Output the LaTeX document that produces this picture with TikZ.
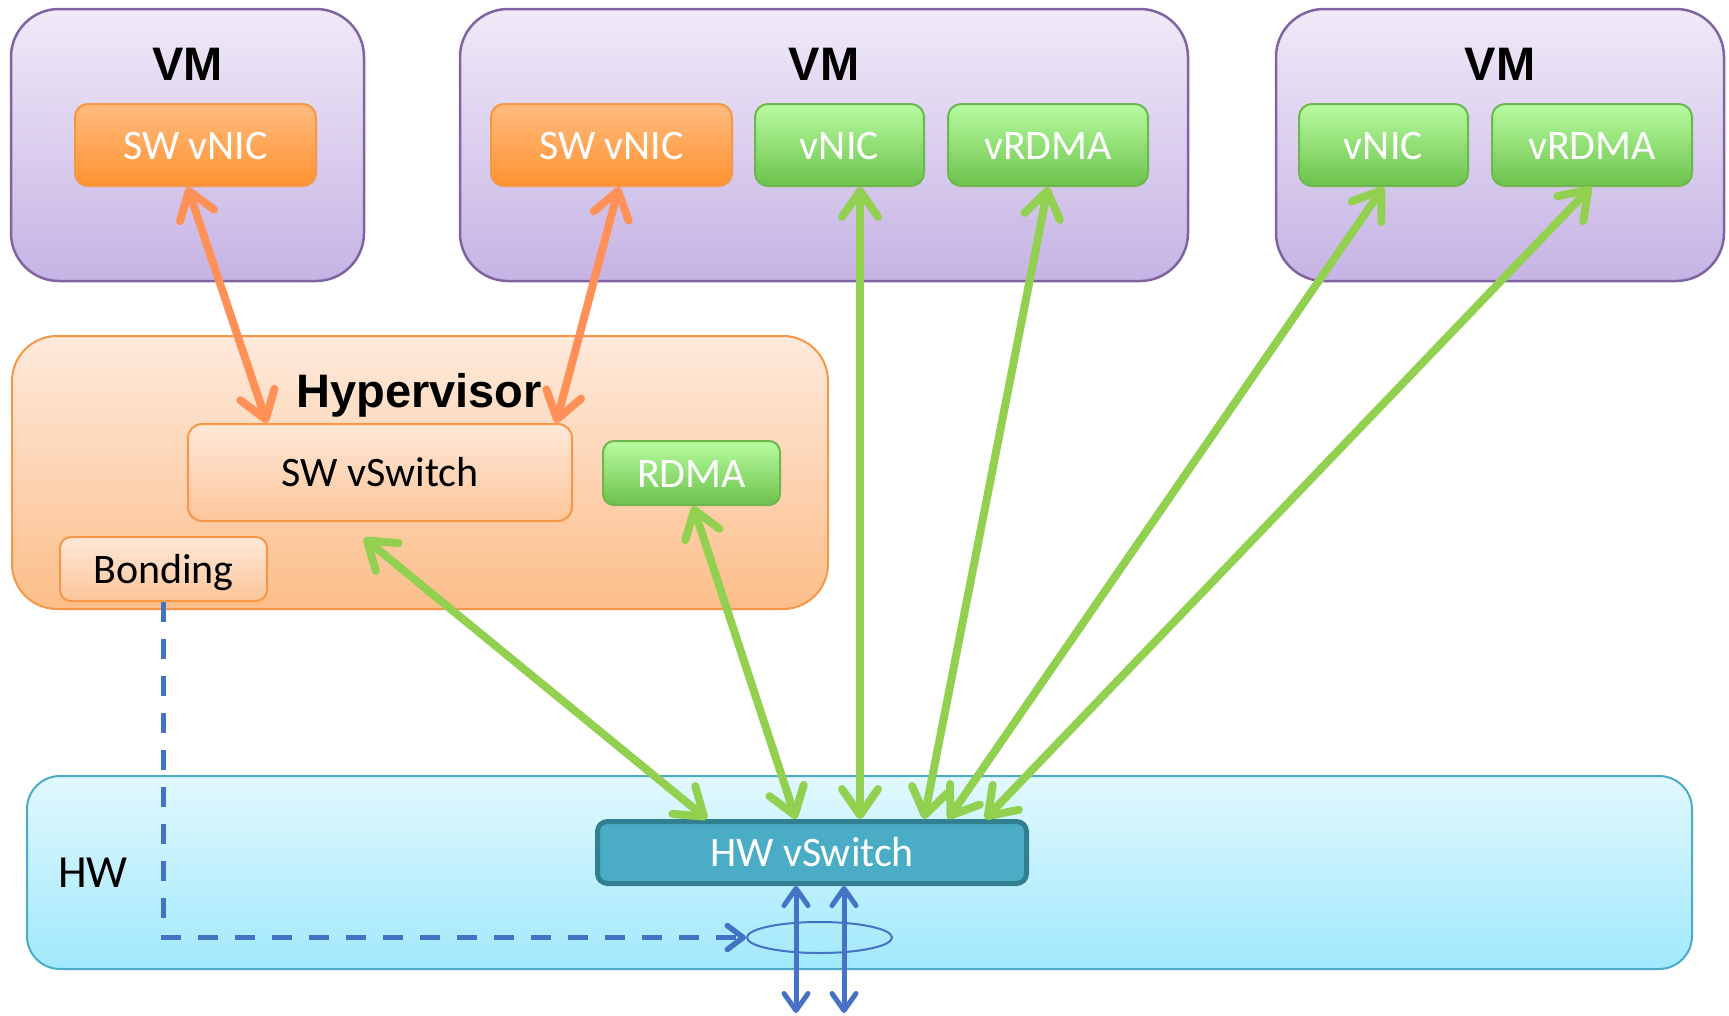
\documentclass[tikz,border=0pt]{standalone}
\usepackage{fontspec}
\setmainfont{Carlito}
\newfontfamily\headfont{Liberation Sans}
\usetikzlibrary{arrows.meta,shapes.geometric,calc}

\definecolor{vmtop}{HTML}{F0EAF8}
\definecolor{vmbot}{HTML}{C6B3E4}
\definecolor{vmline}{HTML}{8064A2}
\definecolor{ortop}{HTML}{FFBC7E}
\definecolor{orbot}{HTML}{FF9232}
\definecolor{orline}{HTML}{F79646}
\definecolor{grtop}{HTML}{B8FCA0}
\definecolor{grbot}{HTML}{6CC24C}
\definecolor{grline}{HTML}{6FB64F}
\definecolor{hvtop}{HTML}{FEEADC}
\definecolor{hvbot}{HTML}{FCBE8A}
\definecolor{swtop}{HTML}{FEE8D8}
\definecolor{swbot}{HTML}{FCC59A}
\definecolor{hwtop}{HTML}{E2F8FE}
\definecolor{hwbot}{HTML}{A0E9FC}
\definecolor{hwline}{HTML}{4BACC6}
\definecolor{hwsfill}{HTML}{4BACC6}
\definecolor{hwsline}{HTML}{327F92}
\definecolor{orarrow}{HTML}{FF9058}
\definecolor{grarrow}{HTML}{92D050}
\definecolor{blarrow}{HTML}{4472C4}

\begin{document}
\begin{tikzpicture}[x=1pt,y=1pt,
  bodyfont/.style={font=\fontsize{42}{50}\selectfont, text height=30pt, text depth=2pt},
  title/.style={anchor=base, inner sep=0pt, font=\headfont\bfseries\fontsize{47}{56}\selectfont},
  vmbox/.style={draw=vmline, line width=2.5pt, rounded corners=48pt,
    top color=vmtop, bottom color=vmbot, inner sep=0pt, minimum height=272pt},
  swnic/.style={bodyfont, draw=orline, line width=2pt, rounded corners=13pt,
    top color=ortop, bottom color=orbot, text=white, inner sep=0pt,
    minimum width=241pt, minimum height=82pt},
  hwnic/.style={bodyfont, draw=grline, line width=2pt, rounded corners=13pt,
    top color=grtop, bottom color=grbot, text=white, inner sep=0pt,
    minimum height=82pt},
  swpart/.style={bodyfont, draw=orline, line width=2pt, rounded corners=14pt,
    top color=swtop, bottom color=swbot, text=black, inner sep=0pt},
  orarr/.style={draw=orarrow, line width=8pt, line cap=round,
    >={Straight Barb[length=26pt,width=36pt,round]}, <->},
  grarr/.style={draw=grarrow, line width=8pt, line cap=round,
    >={Straight Barb[length=26pt,width=36pt,round]}, <->},
  blarr/.style={draw=blarrow, line width=5pt, line cap=round,
    >={Straight Barb[length=17pt,width=24pt,round]}, <->},
  bondlink/.style={draw=blarrow, line width=5.5pt, dash pattern=on 20pt off 17pt,
    -{Straight Barb[length=16pt,width=24pt,round]}}
]
\useasboundingbox (0,0) rectangle (1729,-1015);

% virtual machines
\node[vmbox, minimum width=353pt] (vm1) at (187.5,-145) {};
\node[vmbox, minimum width=728pt] (vm2) at (824,-145) {};
\node[vmbox, minimum width=448pt] (vm3) at (1500,-145) {};
\node[title] (vm1t) at (187.5,-80) {VM};
\node[title] (vm2t) at (824,-80) {VM};
\node[title] (vm3t) at (1500,-80) {VM};

\node[swnic] (nic1) at (195.5,-145) {SW vNIC};
\node[swnic] (nic2) at (611.5,-145) {SW vNIC};
\node[hwnic, minimum width=169pt] (vnic2) at (839.5,-145) {vNIC};
\node[hwnic, minimum width=200pt] (vrdma2) at (1048,-145) {vRDMA};
\node[hwnic, minimum width=169pt] (vnic3) at (1383.5,-145) {vNIC};
\node[hwnic, minimum width=200pt] (vrdma3) at (1592,-145) {vRDMA};

% hypervisor layer
\node[draw=orline, line width=2pt, rounded corners=45pt, top color=hvtop,
  bottom color=hvbot, inner sep=0pt, minimum width=816pt, minimum height=273pt]
  (hyp) at (420,-472.5) {};
\node[title] (hypt) at (419,-407) {Hypervisor};
\node[swpart, minimum width=384pt, minimum height=97pt] (vsw) at (380,-472.5) {SW vSwitch};
\node[hwnic, minimum width=177pt, minimum height=64pt, rounded corners=11pt] (rdma) at (691.5,-473) {RDMA};
\node[swpart, minimum width=207pt, minimum height=64pt, rounded corners=11pt] (bond) at (163.5,-569) {Bonding};

% hardware layer
\node[draw=hwline, line width=2pt, rounded corners=33pt, top color=hwtop,
  bottom color=hwbot, inner sep=0pt, minimum width=1665pt, minimum height=193pt]
  (hw) at (859.5,-872.5) {};
\node[font=\fontsize{46}{55}\selectfont, inner sep=0pt] (hwt) at (93,-873) {HW};
\node[bodyfont, draw=hwsline, line width=5pt, fill=hwsfill, rounded corners=10pt,
  text=white, inner sep=0pt, minimum width=429pt, minimum height=62pt]
  (hwsw) at (812,-852.5) {HW vSwitch};
\node[draw=blarrow, line width=2pt, ellipse, inner sep=0pt,
  minimum width=145pt, minimum height=31pt] (lag) at (819.5,-937.5) {};

% software paths
\draw[orarr] ($(nic1.south)+(-8,0)$) -- ($(vsw.north)+(-113,0)$);
\draw[orarr] ($(nic2.south)+(7.5,0)$) -- ($(vsw.north)+(176,0)$);

% offloaded paths to the hardware switch
\draw[grarr] ($(vsw.south)+(-16,-16)$) -- ($(hwsw.north)+(-105,0)$);
\draw[grarr] ($(rdma.south)+(1.5,0)$) -- ($(hwsw.north)+(-16,0)$);
\draw[grarr] ($(vnic2.south)+(20.5,0)$) -- ($(hwsw.north)+(48,0)$);
\draw[grarr] (vrdma2.south) -- ($(hwsw.north)+(112,0)$);
\draw[grarr] (vnic3.south) -- ($(hwsw.north)+(136,0)$);
\draw[grarr] ($(vrdma3.south)+(-1,0)$) -- ($(hwsw.north)+(173,0)$);

% uplinks and bonding
\coordinate (out1) at (796,-1013);
\coordinate (out2) at (844,-1013);
\draw[blarr] ($(hwsw.south)+(-16,0)$) -- (out1);
\draw[blarr] ($(hwsw.south)+(32,0)$) -- (out2);
\draw[bondlink] (bond.south) |- (lag.west);
\end{tikzpicture}
\end{document}
